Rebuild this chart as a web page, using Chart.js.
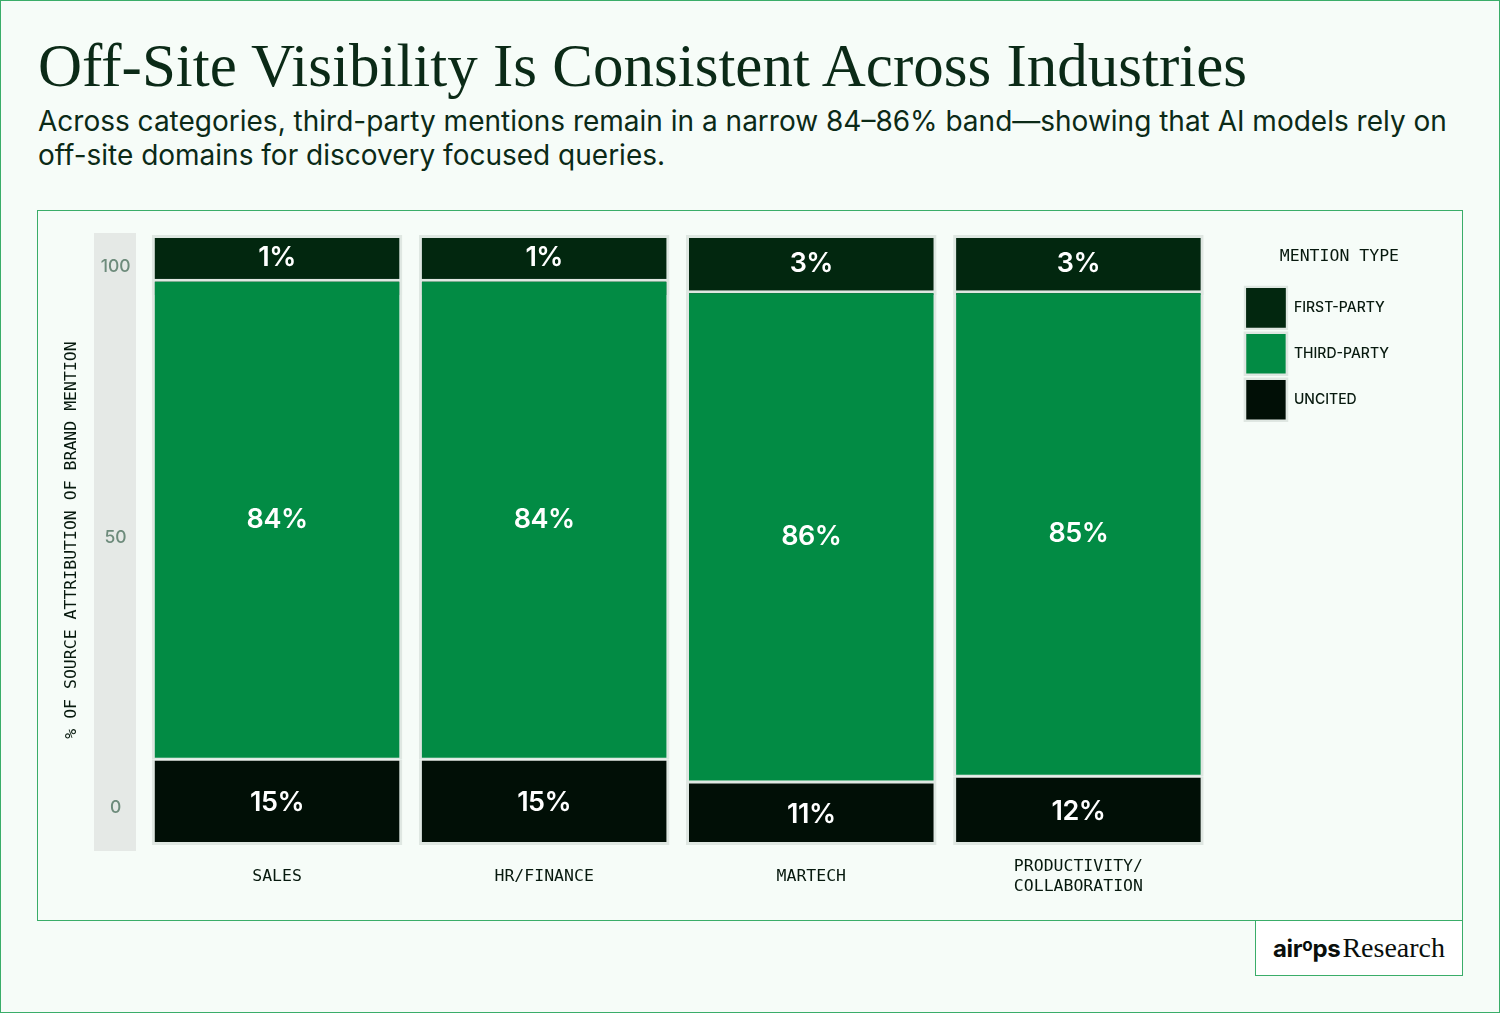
<!DOCTYPE html>
<html>
<head>
<meta charset="utf-8">
<script src="https://cdn.jsdelivr.net/npm/chart.js@4.4.1/dist/chart.umd.min.js"></script>
<style>
  html, body { margin: 0; padding: 0; }
  body { width: 1500px; height: 1013px; background: #f6fcf8; position: relative; overflow: hidden; color: #0b2a17; }
  .frame { position: absolute; left: 0; top: 0; width: 1500px; height: 1013px; box-sizing: border-box; border: 1px solid #3aad69; }
  h1 { position: absolute; left: 38px; top: 36px; margin: 0; font: 400 61px/60px "Liberation Serif", serif; white-space: nowrap; }
  .sub { position: absolute; left: 38px; top: 104px; margin: 0; font: 400 28px/34px Inter, sans-serif; white-space: nowrap; }
  .box { position: absolute; left: 37px; top: 210px; width: 1426px; height: 711px; box-sizing: border-box; border: 1px solid #3aad69; }
  .wrap { position: absolute; left: 38px; top: 211px; width: 1424px; height: 708px; }
  .logo { position: absolute; left: 1255px; top: 920px; width: 208px; height: 56px; box-sizing: border-box; border: 1px solid #3aad69; background: #fff;
          display: flex; align-items: center; justify-content: center; }
  .logo .a { font: 700 24px Inter, sans-serif; letter-spacing: -0.3px; color: #0a0f0c; }
  .logo .a sup { font-size: 17px; vertical-align: 6px; line-height: 0; }
  .logo .r { font: 400 28px "Liberation Serif", serif; color: #0a0f0c; margin-left: 2px; }
</style>
</head>
<body>
<div class="frame"></div>
<h1>Off-Site Visibility Is Consistent Across Industries</h1>
<p class="sub">Across categories, third-party mentions remain in a narrow 84–86% band—showing that AI models rely on<br>off-site domains for discovery focused queries.</p>
<div class="box"></div>
<div class="wrap"><canvas id="chart"></canvas></div>
<div class="logo"><span class="a">air<sup>o</sup>ps</span><span class="r">Research</span></div>

<script>
  const categories = ['SALES', 'HR/FINANCE', 'MARTECH', ['PRODUCTIVITY/', 'COLLABORATION']];
  const firstParty = [1, 1, 3, 3];
  const thirdParty = [84, 84, 86, 85];
  const uncited = [15, 15, 11, 12];
  const yTicks = [0, 50, 100];

  const mono = '"DejaVu Sans Mono", monospace';
  const ink = '#07190e';
  const frameColor = '#dfe7e2';

  Chart.defaults.font.family = 'Inter, sans-serif';

  // grey strip behind the y tick labels (drawn before the scales)
  const axisBand = {
    id: 'axisBand',
    beforeDraw(chart) {
      const { ctx, chartArea } = chart;
      ctx.save();
      ctx.fillStyle = '#e5e9e6';
      ctx.fillRect(chartArea.left - 49.5, chartArea.top - 2, 42, chartArea.bottom - chartArea.top + 8);
      ctx.restore();
    }
  };

  // percentage labels centred in each visible segment
  const segmentLabels = {
    id: 'segmentLabels',
    afterDatasetsDraw(chart) {
      const { ctx, chartArea } = chart;
      const first = chart.getDatasetMeta(0);
      const third = chart.getDatasetMeta(1);
      const unc = chart.getDatasetMeta(2);
      ctx.save();
      ctx.fillStyle = '#ffffff';
      ctx.font = '600 27px Inter, sans-serif';
      ctx.letterSpacing = '-0.5px';
      ctx.textAlign = 'center';
      ctx.textBaseline = 'middle';
      categories.forEach((c, i) => {
        const t = third.data[i], u = unc.data[i], f = first.data[i];
        ctx.fillText(firstParty[i] + '%', f.x, (chartArea.top + t.y) / 2 + 1);
        ctx.fillText(thirdParty[i] + '%', t.x, (t.y + t.base) / 2 + 1);
        ctx.fillText(uncited[i] + '%', u.x, (u.y + u.base) / 2 + 1);
      });
      ctx.restore();
    }
  };

  new Chart(document.getElementById('chart'), {
    type: 'bar',
    data: {
      labels: categories,
      datasets: [
        {
          label: 'FIRST-PARTY',
          data: firstParty,
          yAxisID: 'yTop',
          order: 2,
          minBarLength: 60,
          backgroundColor: '#02270f',
          borderColor: frameColor,
          borderWidth: { top: 3, left: 3, right: 3, bottom: 0 },
          borderSkipped: false
        },
        {
          label: 'THIRD-PARTY',
          data: thirdParty,
          yAxisID: 'yBar',
          order: 1,
          backgroundColor: '#028b44',
          borderColor: frameColor,
          borderWidth: { top: 3, left: 3, right: 3, bottom: 1.5 },
          borderSkipped: false
        },
        {
          label: 'UNCITED',
          data: uncited,
          yAxisID: 'yBar',
          order: 0,
          backgroundColor: '#010f06',
          borderColor: frameColor,
          borderWidth: { top: 1.5, left: 3, right: 3, bottom: 3 },
          borderSkipped: false
        }
      ]
    },
    options: {
      responsive: true,
      maintainAspectRatio: false,
      animation: false,
      barPercentage: 0.938,
      categoryPercentage: 1,
      layout: { padding: { top: 24, left: 15, right: 63, bottom: 0 } },
      scales: {
        x: {
          stacked: true,
          grid: { display: false, drawTicks: false },
          border: { display: false },
          ticks: {
            font: { family: mono, size: 16.5 },
            color: ink,
            padding: 22,
            crossAlign: 'center',
            autoSkip: false,
            maxRotation: 0
          },
          afterFit(scale) { scale.height = 74; }
        },
        y: {
          position: 'left',
          min: -6.84,
          max: 105.91,
          afterBuildTicks(scale) { scale.ticks = yTicks.map(v => ({ value: v })); },
          grid: { display: false, drawTicks: false },
          border: { display: false },
          ticks: {
            font: { size: 17.5, weight: '500' },
            color: '#6d8b7b',
            crossAlign: 'center',
            padding: 13
          },
          title: {
            display: true,
            text: '% OF SOURCE ATTRIBUTION OF BRAND MENTION',
            font: { family: mono, size: 16.5 },
            color: ink,
            padding: { top: 9, bottom: 0 }
          },
          afterFit(scale) { scale.width = 90.5; }
        },
        yBar: { display: false, stacked: true, min: 0, max: 106.64 },
        yTop: { display: false, reverse: true, min: 0, max: 106.64 },
        ySpacer: {
          type: 'linear',
          position: 'right',
          grid: { display: false, drawTicks: false },
          border: { display: false },
          ticks: { display: false },
          afterFit(scale) { scale.width = 29; }
        }
      },
      plugins: {
        tooltip: { enabled: false },
        legend: {
          position: 'right',
          align: 'start',
          title: {
            display: true,
            text: 'MENTION TYPE',
            position: 'end',
            color: ink,
            font: { family: mono, size: 16.5 },
            padding: { top: 13, bottom: 15 }
          },
          labels: {
            boxWidth: 42,
            boxHeight: 42,
            padding: 4,
            color: ink,
            font: { size: 14, weight: '500' },
            sort: (a, b) => a.datasetIndex - b.datasetIndex
          }
        }
      }
    },
    plugins: [axisBand, segmentLabels]
  });
</script>
</body>
</html>
